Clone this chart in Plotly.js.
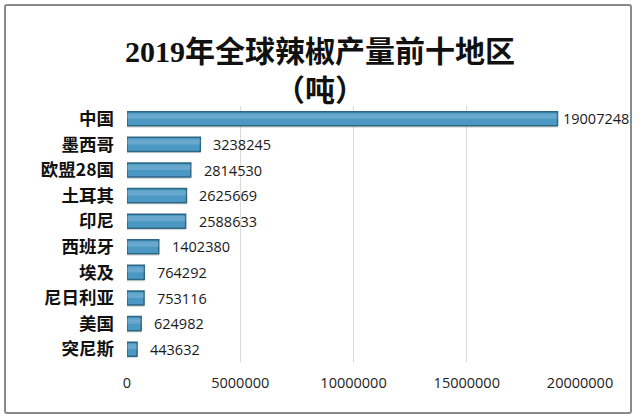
<!DOCTYPE html>
<html>
<head>
<meta charset="utf-8">
<script src="https://cdn.plot.ly/plotly-3.0.1.min.js"></script>
<style>
html,body{margin:0;padding:0;background:#fff;}
#wrap{position:absolute;left:0;top:0;width:640px;height:420px;}
#frame{position:absolute;left:4px;top:4px;width:624px;height:406px;border:2px solid #8a8a8a;border-radius:3px;pointer-events:none;}
#chart{position:absolute;left:0;top:0;width:640px;height:420px;}
</style>
</head>
<body>
<div id="wrap">
<div id="chart"></div>
<div id="frame"></div>
</div>
<script>
const categories = ["中国","墨西哥","欧盟28国","土耳其","印尼","西班牙","埃及","尼日利亚","美国","突尼斯"];
const production = [19007248,3238245,2814530,2625669,2588633,1402380,764292,753116,624982,443632];
const xTicks = [0,5000000,10000000,15000000,20000000];
const xTickLabels = ["0","5000000","10000000","15000000","20000000"];

const shadow = {
  type: 'bar', orientation: 'h',
  y: categories, x: production,
  width: 0.55, offset: -0.2,
  marker: {color: 'rgba(60,60,60,0.18)', line: {width: 0}},
  hoverinfo: 'skip'
};

const trace = {
  type: 'bar', orientation: 'h',
  y: categories, x: production,
  width: 0.55, offset: -0.275,
  marker: {color: '#4a98c3', line: {color: '#2d6682', width: 1.5}},
  hoverinfo: 'skip'
};

const highlight = {
  type: 'bar', orientation: 'h',
  y: categories, x: production,
  width: 0.2, offset: -0.2,
  marker: {color: 'rgba(255,255,255,0.16)', line: {width: 0}},
  hoverinfo: 'skip'
};

const maxVal = Math.max(...production);
const valueLabels = categories.map((c, i) => ({
  x: production[i], y: c, xref: 'x', yref: 'y',
  text: String(production[i]),
  showarrow: false, xanchor: 'left',
  xshift: production[i] === maxVal ? 3 : 11,
  font: {family: 'Open Sans, Noto Sans, sans-serif', size: 14.5, color: '#1a1a1a'}
}));

const layout = {
  width: 640, height: 420,
  margin: {l: 127, r: 60, t: 106, b: 58},
  paper_bgcolor: '#ffffff', plot_bgcolor: '#ffffff',
  showlegend: false,
  barmode: 'overlay',
  annotations: valueLabels,
  title: {
    text: '<b>2019年全球辣椒产量前十地区<br>（吨）</b>',
    x: 0.5, xanchor: 'center', xref: 'container',
    y: 0.853, yanchor: 'top', yref: 'container',
    font: {family: 'Liberation Serif, Noto Sans CJK SC, serif', size: 30, color: '#111'}
  },
  xaxis: {
    range: [0, 20000000],
    tickvals: xTicks, ticktext: xTickLabels,
    showgrid: true, gridcolor: '#d9d9d9', gridwidth: 1,
    zeroline: false, showline: false,
    tickfont: {family: 'Open Sans, Noto Sans, sans-serif', size: 14.5, color: '#222'},
    ticks: '', ticklen: 0,
    ticklabelstandoff: 10
  },
  yaxis: {
    autorange: 'reversed',
    showgrid: false, zeroline: false, showline: false,
    ticks: '', ticklen: 0,
    ticklabelstandoff: 12,
    tickfont: {family: 'Noto Sans CJK SC, sans-serif', size: 17.5, color: '#111', weight: 'bold'}
  }
};

Plotly.newPlot('chart', [shadow, trace, highlight], layout, {displayModeBar: false, staticPlot: true});
</script>
</body>
</html>
